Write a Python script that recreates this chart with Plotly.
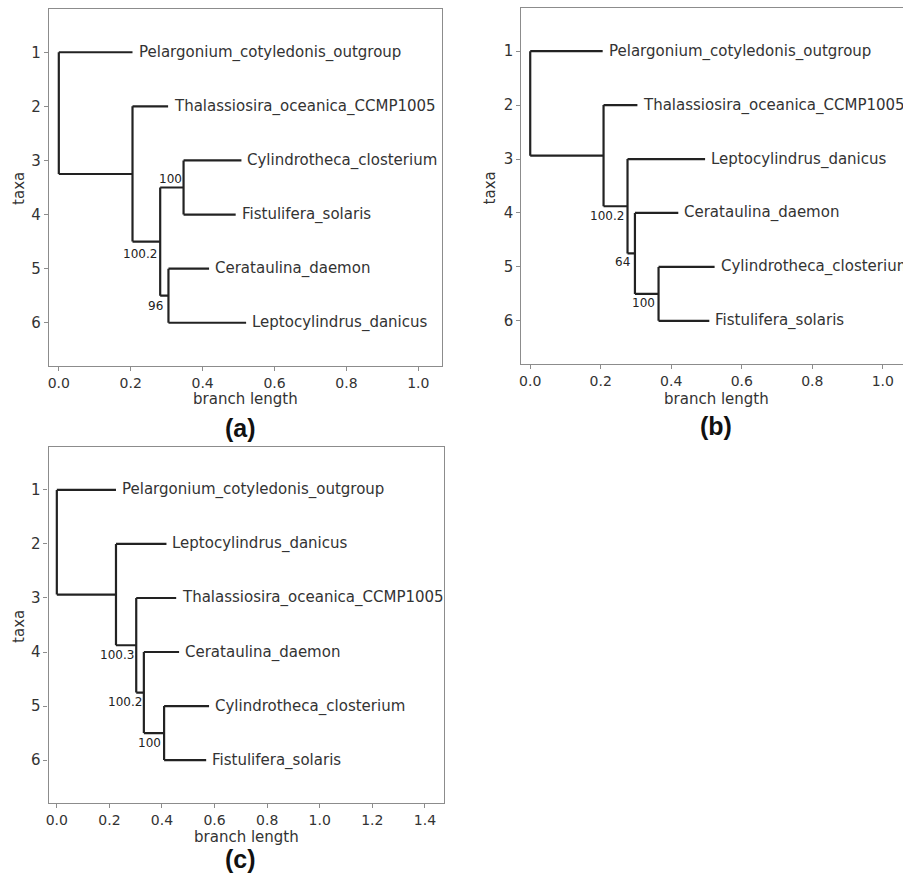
import plotly.graph_objects as go

W, H = 903, 879

# ---------------- data ----------------
ROWS = [1, 2, 3, 4, 5, 6]
ROW_LABELS = ["1", "2", "3", "4", "5", "6"]
X_TICKS_AB = [0.0, 0.2, 0.4, 0.6, 0.8, 1.0]
X_TICKS_C = [0.0, 0.2, 0.4, 0.6, 0.8, 1.0, 1.2, 1.4]

# panel (a)
A_TAXA = ["Pelargonium_cotyledonis_outgroup", "Thalassiosira_oceanica_CCMP1005",
          "Cylindrotheca_closterium", "Fistulifera_solaris",
          "Cerataulina_daemon", "Leptocylindrus_danicus"]
A_TIP_X = [0.205, 0.304, 0.508, 0.492, 0.418, 0.521]
A_TIP_PARENT = [0, 1, 3, 3, 4, 4]
A_NODE_X = [0.0, 0.205, 0.282, 0.347, 0.305]
A_NODE_PARENT = [None, 0, 1, 2, 2]
A_SUPPORT = [None, None, "100.2", "100", "96"]

# panel (b)
B_TAXA = ["Pelargonium_cotyledonis_outgroup", "Thalassiosira_oceanica_CCMP1005",
          "Leptocylindrus_danicus", "Cerataulina_daemon",
          "Cylindrotheca_closterium", "Fistulifera_solaris"]
B_TIP_X = [0.2055, 0.304, 0.496, 0.420, 0.523, 0.508]
B_TIP_PARENT = [0, 1, 2, 3, 4, 4]
B_NODE_X = [0.0, 0.208, 0.276, 0.297, 0.364]
B_NODE_PARENT = [None, 0, 1, 2, 3]
B_SUPPORT = [None, None, "100.2", "64", "100"]

# panel (c)
C_TAXA = ["Pelargonium_cotyledonis_outgroup", "Leptocylindrus_danicus",
          "Thalassiosira_oceanica_CCMP1005", "Cerataulina_daemon",
          "Cylindrotheca_closterium", "Fistulifera_solaris"]
C_TIP_X = [0.225, 0.417, 0.454, 0.465, 0.579, 0.568]
C_TIP_PARENT = [0, 1, 2, 3, 4, 4]
C_NODE_X = [0.0, 0.225, 0.302, 0.331, 0.408]
C_NODE_PARENT = [None, 0, 1, 2, 3]
C_SUPPORT = [None, None, "100.3", "100.2", "100"]

# ---------------- styling ----------------
LINE_COL = "#222222"
SPINE_COL = "#8c8c8c"
TEXT_COL = "#333333"
FONT = "DejaVu Sans"
FS = 15
FS_TICK = 14
FS_SMALL = 12

# support-label offsets from the node (data units), style only
A_SUP_OFF = [None, None, (-0.056, 0.23), (-0.037, -0.15), (-0.035, 0.19)]
B_SUP_OFF = [None, None, (-0.059, 0.185), (-0.036, 0.16), (-0.044, 0.16)]
C_SUP_OFF = [None, None, (-0.073, 0.185), (-0.071, 0.17), (-0.055, 0.18)]


def px(x):
    return x / W


def py(y):
    return 1 - y / H


def node_layout(tip_parent, node_x, node_parent):
    n = len(node_x)
    children = [[] for _ in range(n)]
    for i, p in enumerate(tip_parent):
        children[p].append(("tip", i))
    for j, p in enumerate(node_parent):
        if p is not None:
            children[p].append(("node", j))
    node_y = [None] * n

    def gety(kind, idx):
        if kind == "tip":
            return ROWS[idx]
        if node_y[idx] is None:
            ys = [gety(k, c) for k, c in children[idx]]
            node_y[idx] = (min(ys) + max(ys)) / 2
        return node_y[idx]

    for j in range(n):
        gety("node", j)
    return node_y, children


fig = go.Figure()
annotations = []

panels = [
    ("x", "y", A_TAXA, A_TIP_X, A_TIP_PARENT, A_NODE_X, A_NODE_PARENT, A_SUPPORT, A_SUP_OFF),
    ("x2", "y2", B_TAXA, B_TIP_X, B_TIP_PARENT, B_NODE_X, B_NODE_PARENT, B_SUPPORT, B_SUP_OFF),
    ("x3", "y3", C_TAXA, C_TIP_X, C_TIP_PARENT, C_NODE_X, C_NODE_PARENT, C_SUPPORT, C_SUP_OFF),
]

for xa, ya, taxa, tip_x, tip_parent, node_x, node_parent, support, sup_off in panels:
    node_y, children = node_layout(tip_parent, node_x, node_parent)
    xs, ys = [], []
    for i, p in enumerate(tip_parent):
        xs += [node_x[p], tip_x[i], None]
        ys += [ROWS[i], ROWS[i], None]
    for j, p in enumerate(node_parent):
        if p is not None:
            xs += [node_x[p], node_x[j], None]
            ys += [node_y[j], node_y[j], None]
    for j in range(len(node_x)):
        cy = [ROWS[c] if k == "tip" else node_y[c] for k, c in children[j]]
        xs += [node_x[j], node_x[j], None]
        ys += [min(cy), max(cy), None]
    fig.add_trace(go.Scatter(x=xs, y=ys, mode="lines", xaxis=xa, yaxis=ya,
                             line=dict(color=LINE_COL, width=2.2), hoverinfo="skip",
                             showlegend=False))
    for i, name in enumerate(taxa):
        annotations.append(dict(x=tip_x[i], y=ROWS[i], xref=xa, yref=ya, text=name,
                                showarrow=False, xanchor="left", yanchor="middle",
                                xshift=4, font=dict(family=FONT, size=FS, color=TEXT_COL)))
    for j, s in enumerate(support):
        if s:
            dx, dy = sup_off[j]
            annotations.append(dict(x=node_x[j] + dx, y=node_y[j] + dy, xref=xa, yref=ya,
                                    text=s, showarrow=False, xanchor="center",
                                    yanchor="middle",
                                    font=dict(family=FONT, size=FS_SMALL, color="#222222")))

titles = [
    ("branch length", 243, 399, 0), ("taxa", 16, 188, -90), ("(a)", 238, 428, None),
    ("branch length", 716, 399, 0), ("taxa", 489, 188, -90), ("(b)", 715, 426, None),
    ("branch length", 244, 837, 0), ("taxa", 16, 626, -90), ("(c)", 238, 859, None),
]
for t, x, y, ang in titles:
    if ang is None:
        annotations.append(dict(x=px(x), y=py(y), xref="paper", yref="paper",
                                text="<b>%s</b>" % t, showarrow=False,
                                xanchor="center", yanchor="middle",
                                font=dict(family="Liberation Sans", size=25, color="#111111")))
    else:
        annotations.append(dict(x=px(x), y=py(y), xref="paper", yref="paper", text=t,
                                showarrow=False, xanchor="center", yanchor="middle",
                                textangle=ang,
                                font=dict(family=FONT, size=FS, color=TEXT_COL)))


def xaxis(domain, rng, ticks, anchor, mirror=True):
    return dict(domain=domain, range=rng, tickvals=ticks, anchor=anchor,
                ticktext=["%.1f" % v for v in ticks],
                showline=True, linecolor=SPINE_COL, linewidth=1.2, mirror=mirror,
                ticks="outside", ticklen=4, tickcolor=SPINE_COL, tickwidth=1,
                showgrid=False, zeroline=False,
                tickfont=dict(family=FONT, size=FS_TICK, color=TEXT_COL))


def yaxis(domain, anchor, mirror=True):
    return dict(domain=domain, range=[6.8, 0.2], tickvals=ROWS, ticktext=ROW_LABELS,
                anchor=anchor,
                showline=True, linecolor=SPINE_COL, linewidth=1.2, mirror=mirror,
                ticks="outside", ticklen=4, tickcolor=SPINE_COL, tickwidth=1,
                showgrid=False, zeroline=False,
                tickfont=dict(family=FONT, size=FS_TICK + 1, color=TEXT_COL))


fig.update_layout(
    width=W, height=H, margin=dict(l=0, r=0, t=0, b=0),
    paper_bgcolor="white", plot_bgcolor="white", showlegend=False,
    xaxis=xaxis([px(46), px(440)], [-0.0277, 1.0646], X_TICKS_AB, "y"),
    yaxis=yaxis([py(366), py(9)], "x"),
    xaxis2=xaxis([px(520), 1.0], [-0.0254, 1.0574], X_TICKS_AB, "y2"),
    yaxis2=yaxis([py(364), py(8)], "x2", mirror=False),
    xaxis3=xaxis([px(45.7), px(442.7)], [-0.0315, 1.4735], X_TICKS_C, "y3"),
    yaxis3=yaxis([py(803.3), py(446.7)], "x3"),
    annotations=annotations,
)

fig.write_html(
    "out.html",
    config={"displayModeBar": False},
    post_script="document.body.style.margin='0';document.body.style.overflow='hidden';",
)
